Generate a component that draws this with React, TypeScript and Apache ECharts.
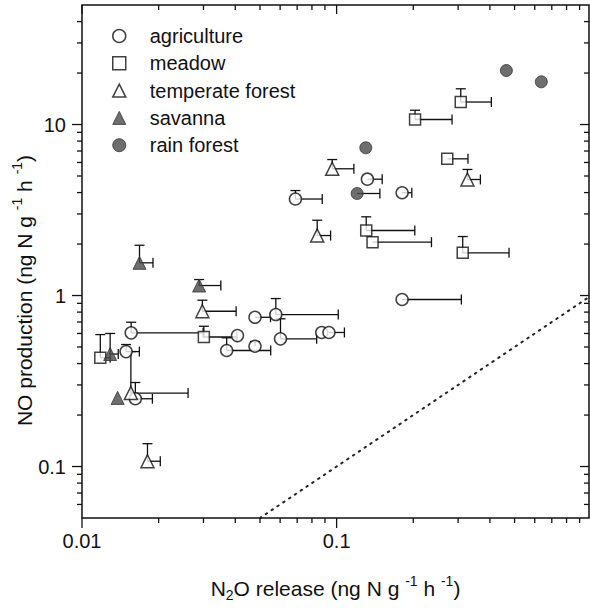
import React, { useEffect, useRef } from "react";
import * as echarts from "echarts";

const FONT = "'Liberation Sans', Arial, Helvetica, sans-serif";
const INK = "#111";

// axis ranges
const X_MIN = 0.01;
const X_MAX = 0.98;
const Y_MIN = 0.05;
const Y_MAX = 50;

// tick values
const xMajorTicks = [0.01, 0.1];
const xMinorTicks = [0.02, 0.03, 0.04, 0.05, 0.06, 0.07, 0.08, 0.09, 0.2, 0.3, 0.4, 0.5, 0.6, 0.7, 0.8, 0.9];
const yMajorTicks = [0.1, 1, 10];
const yMinorTicks = [0.06, 0.07, 0.08, 0.09, 0.2, 0.3, 0.4, 0.5, 0.6, 0.7, 0.8, 0.9, 2, 3, 4, 5, 6, 7, 8, 9, 20, 30, 40];

// legend / series names
const categories = ["agriculture", "meadow", "temperate forest", "savanna", "rain forest"];

// points: [N2O release, NO production, upper error end (NO), right error end (N2O)]
const agriculture = [
  [0.0156, 0.605, 0.698, 0.0299],
  [0.0149, 0.47, 0.517, 0.0168],
  [0.0162, 0.249, 0.31, 0.0189],
  [0.0408, 0.583, null, null],
  [0.037, 0.477, 0.566, 0.0551],
  [0.0478, 0.505, 0.538, null],
  [0.0478, 0.746, null, 0.055],
  [0.0577, 0.774, 0.96, 0.1015],
  [0.0602, 0.558, 0.731, 0.0835],
  [0.0874, 0.608, null, null],
  [0.0933, 0.608, null, 0.1073],
  [0.1808, 0.948, null, 0.309],
  [0.0689, 3.667, 4.11, 0.0878],
  [0.1321, 4.79, null, 0.151],
  [0.1808, 3.99, null, 0.1974],
];
const meadow = [
  [0.0118, 0.432, 0.591, 0.0129],
  [0.0301, 0.572, 0.661, 0.0406],
  [0.1307, 2.4, 2.886, 0.2028],
  [0.1384, 2.05, null, 0.2358],
  [0.3128, 1.777, 2.213, 0.4755],
  [0.2033, 10.7, 12.12, 0.284],
  [0.3073, 13.54, 16.18, 0.4053],
  [0.272, 6.3, null, 0.328],
];
const temperateForest = [
  [0.01556, 0.269, 0.47, 0.0261],
  [0.0297, 0.809, 0.939, 0.0403],
  [0.01808, 0.1074, 0.136, 0.0203],
  [0.0961, 5.51, 6.24, 0.1169],
  [0.0839, 2.243, 2.756, 0.0947],
  [0.3264, 4.77, 5.46, 0.367],
];
const savanna = [
  [0.0138, 0.252, null, null],
  [0.0129, 0.455, 0.6, 0.01388],
  [0.01682, 1.553, 1.968, 0.019],
  [0.02884, 1.144, 1.24, 0.0351],
];
const rainForest = [
  [0.1302, 7.31, null, null],
  [0.1204, 3.95, null, 0.1479],
  [0.4642, 20.69, null, null],
  [0.6366, 17.77, null, null],
];

// 1:1 reference line
const oneToOne = [
  [0.05, 0.05],
  [0.98, 0.98],
];

const groups = [
  { name: categories[0], data: agriculture, symbol: "circle", size: 12, filled: false },
  { name: categories[1], data: meadow, symbol: "rect", size: 11, filled: false },
  { name: categories[2], data: temperateForest, symbol: "triangle", size: 13, filled: false },
  { name: categories[3], data: savanna, symbol: "triangle", size: 13, filled: true },
  { name: categories[4], data: rainForest, symbol: "circle", size: 12, filled: true },
];

const FILL = "#4a4a4a";

function decadeLabel(v: number) {
  const l = Math.log10(v);
  const r = Math.round(l);
  if (Math.abs(l - r) > 1e-6) return "";
  return String(Number(Math.pow(10, r).toPrecision(1)));
}

export default function App() {
  const ref = useRef<HTMLDivElement>(null);

  useEffect(() => {
    if (!ref.current) return;
    const chart = echarts.init(ref.current, null, { renderer: "svg" });

    const errorSegments: number[][] = [];
    groups.forEach((g) => {
      g.data.forEach((p: any) => {
        if (p[2] != null) errorSegments.push([p[0], p[1], p[0], p[2]]);
        if (p[3] != null) errorSegments.push([p[0], p[1], p[3], p[1]]);
      });
    });

    const tickData: number[][] = [];
    xMajorTicks.forEach((v) => tickData.push([v, 1, 0, 1]));
    xMinorTicks.forEach((v) => tickData.push([v, 1, 0, 0]));
    yMajorTicks.forEach((v) => tickData.push([0.1, v, 1, 1]));
    yMinorTicks.forEach((v) => tickData.push([0.1, v, 1, 0]));

    const rich = {
      sup: { fontSize: 14, fontFamily: FONT, color: INK, lineHeight: 16, verticalAlign: "top" },
      sub: { fontSize: 14, fontFamily: FONT, color: INK, lineHeight: 16, verticalAlign: "bottom" },
    };

    const option: any = {
      animation: false,
      backgroundColor: "#fff",
      grid: {
        left: 82,
        right: 1,
        top: 5,
        bottom: 90,
        containLabel: false,
        outerBoundsMode: "none",
        show: true,
        borderColor: INK,
        borderWidth: 1.5,
        backgroundColor: "transparent",
      },
      legend: {
        orient: "vertical",
        left: 107,
        top: 20,
        itemWidth: 13,
        itemHeight: 13,
        itemGap: 5.3,
        selectedMode: false,
        textStyle: {
          fontSize: 20,
          fontFamily: FONT,
          color: INK,
          lineHeight: 22,
          padding: [0, 0, 0, 19],
        },
        data: groups.map((g) => ({
          name: g.name,
          icon: g.symbol,
          itemStyle: g.filled
            ? { color: FILL, borderColor: "#333", borderWidth: 1 }
            : { color: "#fff", borderColor: INK, borderWidth: 1.5 },
        })),
      },
      xAxis: {
        type: "log",
        logBase: 10,
        min: X_MIN,
        max: X_MAX,
        position: "bottom",
        axisLine: { show: false },
        axisTick: { show: false },
        splitLine: { show: false },
        axisLabel: {
          fontSize: 20,
          fontFamily: FONT,
          color: INK,
          margin: 13,
          formatter: decadeLabel,
        },
        name: "N{sub|2}O release (ng N g {sup|-1} h {sup|-1})",
        nameLocation: "middle",
        nameGap: 56,
        nameMoveOverlap: false,
        nameTextStyle: { fontSize: 21, fontFamily: FONT, color: INK, lineHeight: 28, rich },
      },
      yAxis: {
        type: "log",
        logBase: 10,
        min: Y_MIN,
        max: Y_MAX,
        position: "left",
        axisLine: { show: false },
        axisTick: { show: false },
        splitLine: { show: false },
        axisLabel: {
          fontSize: 20,
          fontFamily: FONT,
          color: INK,
          margin: 16,
          formatter: decadeLabel,
        },
        name: "NO production (ng N g {sup|-1} h {sup|-1})",
        nameLocation: "middle",
        nameGap: 44,
        nameMoveOverlap: false,
        nameTextStyle: {
          fontSize: 21,
          fontFamily: FONT,
          color: INK,
          lineHeight: 28,
          padding: [0, 58, 0, 0],
          rich,
        },
      },
      series: [
        {
          type: "custom",
          name: "ticks",
          silent: true,
          clip: false,
          z: 5,
          data: tickData,
          encode: { x: 0, y: 1 },
          renderItem: (params: any, api: any) => {
            const cs = params.coordSys;
            const axis = api.value(2);
            const major = api.value(3) === 1;
            const outLen = major ? 10 : 5;
            const inLen = major ? 9 : 5;
            const st = { stroke: INK, lineWidth: 1.3 };
            if (axis === 0) {
              const px = api.coord([api.value(0), 1])[0];
              const yb = cs.y + cs.height;
              return {
                type: "group",
                children: [
                  { type: "line", shape: { x1: px, y1: yb, x2: px, y2: yb + outLen }, style: st },
                  { type: "line", shape: { x1: px, y1: cs.y, x2: px, y2: cs.y + inLen }, style: st },
                ],
              };
            }
            const py = api.coord([0.1, api.value(1)])[1];
            const xr = cs.x + cs.width;
            return {
              type: "group",
              children: [
                { type: "line", shape: { x1: cs.x - outLen, y1: py, x2: cs.x, y2: py }, style: st },
                { type: "line", shape: { x1: xr - inLen, y1: py, x2: xr, y2: py }, style: st },
              ],
            };
          },
        },
        {
          type: "line",
          name: "1:1",
          data: oneToOne,
          symbol: "none",
          silent: true,
          z: 1,
          lineStyle: { color: "#222", width: 2, type: [1.5, 5.5], cap: "round" },
        },
        {
          type: "custom",
          name: "errors",
          silent: true,
          clip: false,
          z: 2,
          data: errorSegments,
          encode: { x: [0, 2], y: [1, 3] },
          renderItem: (params: any, api: any) => {
            const p1 = api.coord([api.value(0), api.value(1)]);
            const p2 = api.coord([api.value(2), api.value(3)]);
            const vertical = Math.abs(p1[0] - p2[0]) < 0.5;
            const c = 5;
            const st = { stroke: INK, lineWidth: 1.3 };
            const cap = vertical
              ? { x1: p2[0] - c, y1: p2[1], x2: p2[0] + c, y2: p2[1] }
              : { x1: p2[0], y1: p2[1] - c, x2: p2[0], y2: p2[1] + c };
            return {
              type: "group",
              children: [
                { type: "line", shape: { x1: p1[0], y1: p1[1], x2: p2[0], y2: p2[1] }, style: st },
                { type: "line", shape: cap, style: st },
              ],
            };
          },
        },
        ...groups.map((g) => ({
          type: "scatter",
          name: g.name,
          symbol: g.symbol,
          symbolSize: g.size,
          z: 3,
          silent: true,
          data: g.data.map((p: any) => [p[0], p[1]]),
          itemStyle: g.filled
            ? { color: FILL, borderColor: "#333", borderWidth: 1 }
            : { color: "#fff", borderColor: INK, borderWidth: 1.5 },
        })),
      ],
    };

    chart.setOption(option);
    return () => chart.dispose();
  }, []);

  return (
    <div
      ref={ref}
      style={{ position: "fixed", left: 0, top: 0, width: 590, height: 608, background: "#fff" }}
    />
  );
}
